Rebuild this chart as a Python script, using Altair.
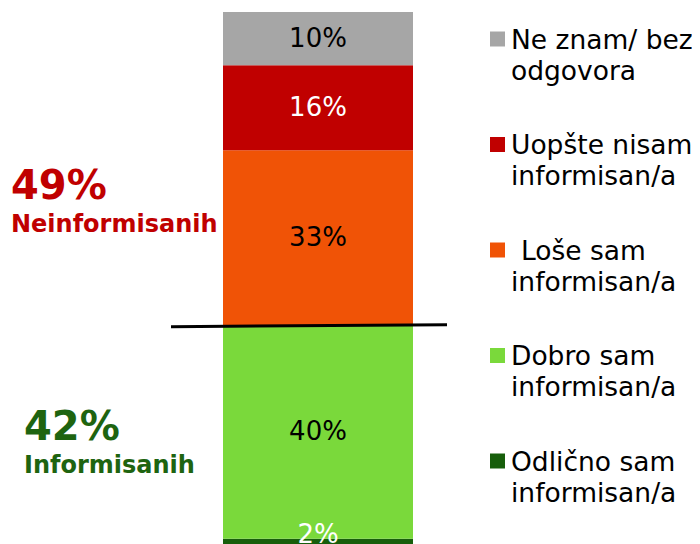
import altair as alt
import pandas as pd

# Data (bottom to top of the stack)
categories = [
    "Odlično sam\ninformisan/a",
    "Dobro sam\ninformisan/a",
    " Loše sam\ninformisan/a",
    "Uopšte nisam\ninformisan/a",
    "Ne znam/ bez\nodgovora",
]
values = [2, 40, 33, 16, 10]
colors = ["#175E0B", "#7AD93B", "#F05306", "#C00000", "#A6A6A6"]
label_colors = ["white", "black", "black", "white", "black"]

annot_top = ["49%", "Neinformisanih"]
annot_bottom = ["42%", "Informisanih"]

df = pd.DataFrame({
    "group": "all",
    "category": categories,
    "value": values,
    "rank": list(range(len(values))),
    "lab": [f"{v}%" for v in values],
    "tcolor": label_colors,
})

FONT = "DejaVu Sans"
yscale = alt.Scale(domain=[1.0, 101], nice=False)
xenc = alt.X("group:N", axis=None, scale=alt.Scale(paddingInner=0, paddingOuter=0))

legend_order = categories[::-1]
legend_colors = colors[::-1]
cscale = alt.Scale(domain=legend_order, range=legend_colors)

stacked = alt.Chart(df).transform_stack(
    stack="value", as_=["y0", "y1"], groupby=["group"],
    sort=[alt.SortField("rank", order="ascending")],
).transform_calculate(mid="(datum.y0 + datum.y1) / 2")

bars = stacked.mark_bar(clip=True).encode(
    x=xenc,
    y=alt.Y("y0:Q", scale=yscale, axis=None),
    y2="y1:Q",
    color=alt.Color("category:N", scale=cscale, legend=None),
)

txtcolor = alt.condition("datum.tcolor == 'white'", alt.value("white"), alt.value("black"))

labels = stacked.transform_filter("datum.value > 5").mark_text(
    font=FONT, fontSize=26, baseline="middle"
).encode(x=xenc, y=alt.Y("mid:Q", scale=yscale), text="lab:N", color=txtcolor)

small_label = stacked.transform_filter("datum.value <= 5").mark_text(
    font=FONT, fontSize=26, baseline="alphabetic", dy=-1
).encode(x=xenc, y=alt.Y("mid:Q", scale=yscale), text="lab:N", color=txtcolor)

main = alt.layer(bars, labels, small_label)

# Legend (drawn as marks, positioned through a point scale)
lg_y = alt.Y("category:N", sort=legend_order, axis=None,
             scale=alt.Scale(type="point", domain=legend_order, range=[27, 449], padding=0))
legend_sq = alt.Chart(df).mark_square(size=225, opacity=1).encode(
    x=alt.value(274.5), y=lg_y,
    color=alt.Color("category:N", scale=cscale, legend=None),
)
lines = alt.Chart(df).transform_calculate(
    line1="split(datum.category, '\\n')[0]",
    line2="split(datum.category, '\\n')[1]",
    indent="substring(datum.category, 0, 1) == ' '",
)
txt_style = dict(font=FONT, fontSize=26.5, align="left", baseline="alphabetic", color="black")
legend_l1 = lines.transform_filter("!datum.indent").mark_text(dy=9.5, **txt_style).encode(
    x=alt.value(288), y=lg_y, text="line1:N")
# first line that starts with a space (Vega trims it, so keep the indent with dx)
legend_l1_sp = lines.transform_filter("datum.indent").mark_text(dx=10, dy=9.5, **txt_style).encode(
    x=alt.value(288), y=lg_y, text="line1:N")
legend_l2 = lines.mark_text(dy=40.5, **txt_style).encode(
    x=alt.value(288), y=lg_y, text="line2:N")
legend = alt.layer(legend_sq, legend_l1, legend_l1_sp, legend_l2)

divider = alt.Chart(pd.DataFrame({"k": [0]})).mark_rule(color="black", strokeWidth=3).encode(
    x=alt.value(-52), x2=alt.value(224), y=alt.value(314.7), y2=alt.value(312.7)
)

def annot(txt, x, y, size, color):
    return alt.Chart(pd.DataFrame({"t": [txt]})).mark_text(
        font=FONT, fontSize=size, fontWeight="bold", align="left",
        baseline="alphabetic", color=color,
    ).encode(x=alt.value(x), y=alt.value(y), text="t:N")

annots = alt.layer(
    annot(annot_top[0], -212, 187, 40, "#C00000"),
    annot(annot_top[1], -212, 220, 24, "#C00000"),
    annot(annot_bottom[0], -199, 428, 40, "#1E6410"),
    annot(annot_bottom[1], -199, 461, 24, "#1E6410"),
)

chart = alt.layer(main, legend, divider, annots).resolve_scale(
    y="independent"
).properties(
    width=190, height=532,
    autosize=alt.AutoSizeParams(type="none"),
    padding={"left": 215, "top": 4, "right": 279, "bottom": 0},
).configure_view(stroke=None)

chart.save("out.html", embed_options={"renderer": "svg", "actions": False})
